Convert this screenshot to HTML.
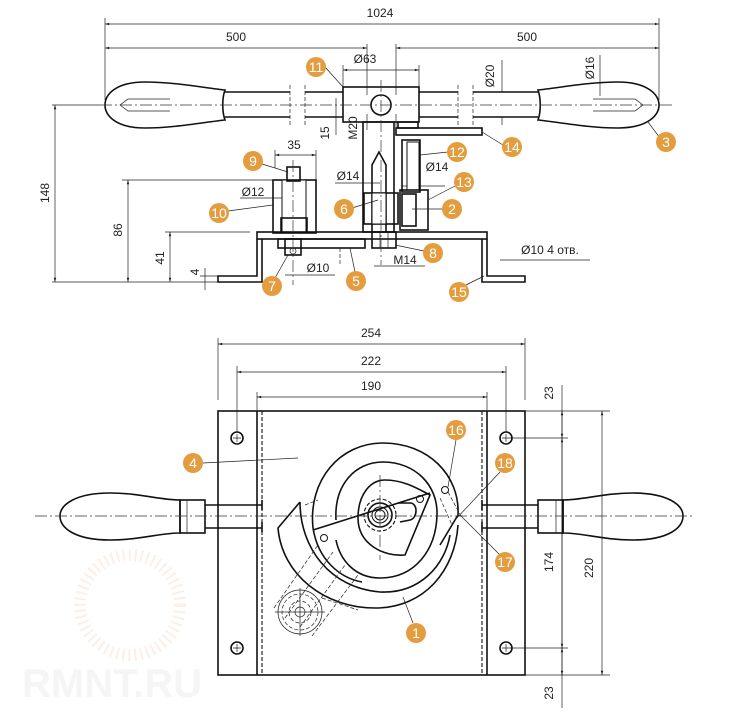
<!DOCTYPE html>
<html><head><meta charset="utf-8"><style>
html,body{margin:0;padding:0;background:#fff}
svg{display:block}
text{font-family:"Liberation Sans",sans-serif;font-size:12px;fill:#222}
.l{stroke:#111;fill:none;stroke-width:1.6}
.t{stroke:#222;fill:none;stroke-width:0.7}
.c{stroke:#333;fill:none;stroke-width:0.7;stroke-dasharray:12 3 2 3}
.d{stroke:#111;fill:none;stroke-width:1.1;stroke-dasharray:4 2}
.b circle{fill:#e39d3f}
.b text{fill:#fff;font-size:14px;text-anchor:middle}
</style></head><body>
<svg width="736" height="715" viewBox="0 0 736 715" xmlns="http://www.w3.org/2000/svg">
<defs>
<marker id="a" viewBox="0 0 10 10" refX="10" refY="5" markerWidth="8" markerHeight="6" orient="auto-start-reverse"><path d="M0,2 L10,5 L0,8z" fill="#222"/></marker>
<pattern id="h" width="4" height="4" patternUnits="userSpaceOnUse" patternTransform="rotate(45)"><line x1="0" y1="0" x2="0" y2="4" stroke="#999" stroke-width="0.7"/></pattern>
<pattern id="x" width="6" height="6" patternUnits="userSpaceOnUse" patternTransform="rotate(45)"><path d="M0,0V6M0,0H6" stroke="#bbb" stroke-width="0.6"/></pattern>
</defs>

<!-- ===== TOP VIEW ===== -->
<g class="t">
<line x1="105" y1="18" x2="105" y2="100"/><line x1="659" y1="18" x2="659" y2="100"/>
<line x1="105" y1="24" x2="659" y2="24" marker-start="url(#a)" marker-end="url(#a)"/>
<line x1="105" y1="48" x2="367" y2="48" marker-start="url(#a)" marker-end="url(#a)"/>
<line x1="396" y1="48" x2="659" y2="48" marker-start="url(#a)" marker-end="url(#a)"/>
<line x1="367" y1="44" x2="367" y2="130"/><line x1="396" y1="44" x2="396" y2="130"/>
<line x1="343" y1="70" x2="419" y2="70" marker-start="url(#a)" marker-end="url(#a)"/>
<line x1="343" y1="65" x2="343" y2="88"/><line x1="419" y1="65" x2="419" y2="88"/>
<line x1="502" y1="60" x2="502" y2="92" /><line x1="502" y1="117" x2="502" y2="125"/>
<line x1="600" y1="55" x2="600" y2="96"/>
<line x1="52" y1="282" x2="218" y2="282"/>
<line x1="52" y1="105" x2="100" y2="105"/>
<line x1="55" y1="105" x2="55" y2="282" marker-start="url(#a)" marker-end="url(#a)"/>
<line x1="122" y1="180" x2="273" y2="180"/>
<line x1="128" y1="180" x2="128" y2="282" marker-start="url(#a)" marker-end="url(#a)"/>
<line x1="165" y1="232" x2="250" y2="232"/>
<line x1="170" y1="232" x2="170" y2="282" marker-start="url(#a)" marker-end="url(#a)"/>
<line x1="205" y1="268" x2="205" y2="290"/><line x1="200" y1="276" x2="218" y2="276"/>
<line x1="275" y1="155" x2="316" y2="155" marker-start="url(#a)" marker-end="url(#a)"/>
<line x1="275" y1="150" x2="275" y2="168"/><line x1="316" y1="150" x2="316" y2="180"/>
<line x1="240" y1="198" x2="300" y2="198"/>
<line x1="335" y1="183" x2="380" y2="183"/>
<line x1="402" y1="186" x2="445" y2="186"/>
<line x1="285" y1="275" x2="335" y2="275"/>
<line x1="374" y1="266" x2="425" y2="266"/>
<line x1="500" y1="260" x2="590" y2="260"/>
<line x1="336" y1="98" x2="336" y2="135"/>
</g>
<text x="380" y="17" text-anchor="middle">1024</text>
<text x="236" y="41" text-anchor="middle">500</text>
<text x="527" y="41" text-anchor="middle">500</text>
<text x="365" y="63" text-anchor="middle">Ø63</text>
<text x="294" y="149" text-anchor="middle">35</text>
<text x="253" y="196" text-anchor="middle">Ø12</text>
<text x="348" y="180" text-anchor="middle">Ø14</text>
<text x="437" y="171" text-anchor="middle">Ø14</text>
<text x="318" y="272" text-anchor="middle">Ø10</text>
<text x="405" y="264" text-anchor="middle">M14</text>
<text x="550" y="254" text-anchor="middle">Ø10 4 отв.</text>
<text transform="translate(49,193) rotate(-90)" text-anchor="middle">148</text>
<text transform="translate(122,230) rotate(-90)" text-anchor="middle">86</text>
<text transform="translate(164,258) rotate(-90)" text-anchor="middle">41</text>
<text transform="translate(199,272) rotate(-90)" text-anchor="middle">4</text>
<text transform="translate(329,133) rotate(-90)" text-anchor="middle">15</text>
<text transform="translate(357,128) rotate(-90)" text-anchor="middle">M20</text>
<text transform="translate(494,76) rotate(-90)" text-anchor="middle">Ø20</text>
<text transform="translate(594,68) rotate(-90)" text-anchor="middle">Ø16</text>

<!-- handles top -->
<path class="l" d="M225,90 C205,88 175,82 145,82 C115,82 105,95 105,105 C105,115 115,128 145,128 C175,128 205,122 225,120 C222,112 222,98 225,90Z" fill="url(#x)"/>
<path class="t" d="M170,99 L128,99 L120,105 L128,111 L170,111"/>
<path class="l" d="M538,90 C558,88 588,82 618,82 C648,82 659,95 659,105 C659,115 648,128 618,128 C588,128 558,122 538,120 C541,112 541,98 538,90Z" fill="url(#x)"/>
<path class="t" d="M593,99 L635,99 L643,105 L635,111 L593,111"/>
<g class="l">
<line x1="225" y1="92" x2="290" y2="92"/><line x1="225" y1="117" x2="290" y2="117"/>
<line x1="305" y1="92" x2="343" y2="92"/><line x1="305" y1="117" x2="343" y2="117"/>
<line x1="419" y1="92" x2="458" y2="92"/><line x1="419" y1="117" x2="458" y2="117"/>
<line x1="473" y1="92" x2="538" y2="92"/><line x1="473" y1="117" x2="538" y2="117"/>
</g>
<g class="t" stroke-dasharray="4 2"><line x1="290" y1="85" x2="290" y2="125"/><line x1="305" y1="85" x2="305" y2="125"/><line x1="458" y1="85" x2="458" y2="125"/><line x1="473" y1="85" x2="473" y2="125"/></g>
<!-- hub & stem -->
<rect class="l" x="343" y="87" width="76" height="35" fill="url(#h)"/>
<rect x="344" y="95" width="74" height="19" fill="#fff"/>
<circle class="l" cx="381" cy="105" r="10"/>
<rect class="l" x="363" y="122" width="31" height="110" fill="url(#h)"/>
<path class="l" d="M372,232 L372,165 L379,152 L386,165 L386,232" fill="#fff"/>
<rect class="l" x="398" y="122" width="20" height="6" fill="url(#h)"/>
<rect class="l" x="396" y="128" width="86" height="7" fill="#fff"/>
<rect class="l" x="402" y="140" width="18" height="52" fill="url(#h)"/>
<rect x="407" y="142" width="12" height="48" fill="#fff" stroke="#111"/>
<rect class="l" x="400" y="190" width="28" height="40" fill="url(#h)"/>
<rect class="l" x="402" y="194" width="14" height="32" fill="url(#x)"/>
<rect class="l" x="364" y="193" width="34" height="31" fill="url(#h)"/>
<rect x="372" y="193" width="14" height="31" fill="#fff" stroke="#111"/>
<rect class="l" x="372" y="232" width="24" height="16" fill="#fff"/>
<line class="t" x1="380" y1="232" x2="380" y2="248"/><line class="t" x1="388" y1="232" x2="388" y2="248"/>
<!-- base -->
<rect class="l" x="257" y="232" width="230" height="7" fill="#fff"/>
<path class="l" d="M257,239 V276 H218 V282 H262 V239 M487,239 V276 H525 V282 H482 V239"/>
<rect class="l" x="278" y="239" width="87" height="9" fill="#fff"/>
<rect class="l" x="273" y="180" width="43" height="53" fill="url(#h)"/>
<rect x="282" y="180" width="24" height="53" fill="#fff" stroke="#111"/>
<rect class="l" x="287" y="167" width="13" height="14" fill="#fff"/>
<rect class="l" x="281" y="218" width="26" height="14" fill="#fff"/>
<rect class="l" x="285" y="239" width="16" height="16" fill="#fff"/>
<circle class="t" cx="293" cy="251" r="3"/>
<line class="c" x1="293" y1="160" x2="293" y2="285"/>
<line class="c" x1="381" y1="80" x2="381" y2="265"/>
<line class="c" x1="100" y1="105" x2="672" y2="105"/>
<line class="t" x1="340" y1="248" x2="340" y2="265" stroke-dasharray="4 2"/>

<!-- ===== BOTTOM VIEW ===== -->
<g class="t">
<line x1="218" y1="338" x2="218" y2="400"/><line x1="525" y1="338" x2="525" y2="400"/>
<line x1="218" y1="344" x2="525" y2="344" marker-start="url(#a)" marker-end="url(#a)"/>
<line x1="237" y1="366" x2="237" y2="432"/><line x1="506" y1="366" x2="506" y2="432"/>
<line x1="237" y1="372" x2="506" y2="372" marker-start="url(#a)" marker-end="url(#a)"/>
<line x1="257" y1="392" x2="257" y2="410"/><line x1="487" y1="392" x2="487" y2="410"/>
<line x1="257" y1="397" x2="487" y2="397" marker-start="url(#a)" marker-end="url(#a)"/>
<line x1="525" y1="411" x2="610" y2="411"/><line x1="525" y1="675" x2="610" y2="675"/>
<line x1="510" y1="438" x2="568" y2="438"/><line x1="510" y1="648" x2="568" y2="648"/>
<line x1="562" y1="385" x2="562" y2="708"/>
<line x1="562" y1="411" x2="562" y2="438" marker-start="url(#a)" marker-end="url(#a)"/>
<line x1="562" y1="438" x2="562" y2="648" marker-start="url(#a)" marker-end="url(#a)"/>
<line x1="562" y1="648" x2="562" y2="675" marker-start="url(#a)" marker-end="url(#a)"/>
<line x1="602" y1="411" x2="602" y2="675" marker-start="url(#a)" marker-end="url(#a)"/>
</g>
<text x="371" y="337" text-anchor="middle">254</text>
<text x="371" y="365" text-anchor="middle">222</text>
<text x="371" y="390" text-anchor="middle">190</text>
<text transform="translate(553,393) rotate(-90)" text-anchor="middle">23</text>
<text transform="translate(553,693) rotate(-90)" text-anchor="middle">23</text>
<text transform="translate(553,562) rotate(-90)" text-anchor="middle">174</text>
<text transform="translate(593,568) rotate(-90)" text-anchor="middle">220</text>

<!-- watermark -->
<text x="22" y="697" style="font-size:40px;font-weight:bold;fill:#f5f5f5">RMNT.RU</text>
<circle cx="130" cy="605" r="50" fill="none" stroke="#fbefe8" stroke-width="12" stroke-dasharray="2 4"/>

<rect class="l" x="218" y="411" width="307" height="264" fill="none"/>
<line class="l" x1="257" y1="411" x2="257" y2="675"/><line class="l" x1="487" y1="411" x2="487" y2="675"/>
<line class="d" x1="262" y1="411" x2="262" y2="675"/><line class="d" x1="482" y1="411" x2="482" y2="675"/>
<g class="l"><circle cx="237" cy="438" r="6"/><circle cx="506" cy="438" r="6"/><circle cx="237" cy="648" r="6"/><circle cx="506" cy="648" r="6"/></g>
<g class="t"><path d="M233,438h8M237,434v8M502,438h8M506,434v8M233,648h8M237,644v8M502,648h8M506,644v8"/></g>

<!-- handles bottom -->
<path class="l" d="M180,500 C160,500 140,493 110,493 C75,493 60,505 60,516 C60,528 75,540 110,540 C140,540 160,533 180,533Z" fill="#fff"/>
<rect class="l" x="180" y="500" width="25" height="33" fill="#fff"/><line class="t" x1="187" y1="500" x2="187" y2="533"/>
<path class="l" d="M205,505 H262 M205,528 H262 M262,500 V510 M262,522 V532"/>
<path class="l" d="M563,500 C583,500 603,493 633,493 C668,493 683,505 683,516 C683,528 668,540 633,540 C603,540 583,533 563,533Z" fill="#fff"/>
<rect class="l" x="538" y="500" width="25" height="33" fill="#fff"/><line class="t" x1="556" y1="500" x2="556" y2="533"/>
<path class="l" d="M482,505 H538 M482,528 H538 M482,500 V510 M482,522 V532"/>

<!-- spiral -->
<g class="l">
<!-- outer crescent -->
<path d="M300,502 L278,528 C282,575 325,608 375,608 C425,608 455,570 458,525"/>
<path d="M300,502 C300,548 330,588 380,592 C420,594 445,565 450,535"/>
<!-- big ring top -->
<path d="M313,528 C308,480 340,443 383,443 C428,443 460,475 458,515 L440,545"/>
<path d="M313,528 C318,560 340,578 362,582"/>
<!-- second ring -->
<path d="M336,520 C334,485 355,462 383,462 C415,462 438,485 437,515 C436,550 415,578 380,578 C355,578 340,560 336,540"/>
<!-- inner -->
<path d="M358,518 C358,495 370,480 385,480 C405,480 420,490 430,495 L405,555 C385,557 358,545 358,518"/>
<path d="M398,503 H410 C418,503 418,518 410,520 L400,522"/>
<path d="M313,530 L430,493"/>
<circle cx="380" cy="515" r="12"/><circle cx="380" cy="515" r="8" stroke-width="1"/><circle cx="380" cy="515" r="5" stroke-width="1"/>
<circle cx="445" cy="490" r="3.5" stroke-width="1"/><circle cx="420" cy="499" r="3.5" stroke-width="1"/><circle cx="324" cy="538" r="3.5" stroke-width="1"/>
</g>
<circle class="d" cx="380" cy="515" r="16" stroke-width="0.7"/>
<line class="c" x1="380" y1="475" x2="380" y2="560"/>
<g class="t" stroke-dasharray="4 2">
<path d="M274,608 L318,545 M285,618 L333,552 M300,627 L345,565 M312,636 L358,575 M322,598 L358,610"/>
<path d="M305,505 L318,500 M440,498 L452,525 M448,492 L462,518"/>
<circle cx="300" cy="612" r="18"/><circle cx="300" cy="612" r="11"/>
</g>
<circle class="t" cx="300" cy="612" r="22"/>
<path class="t" d="M275,612 H325 M300,588 V636"/>
<circle class="t" cx="300" cy="612" r="5"/>
<line class="c" x1="35" y1="516" x2="695" y2="516"/>

<!-- leader lines -->
<g class="t">
<line x1="325" y1="67" x2="343" y2="87"/>
<line x1="660" y1="138" x2="648" y2="122"/>
<line x1="503" y1="145" x2="482" y2="132"/>
<line x1="448" y1="152" x2="420" y2="155"/>
<line x1="455" y1="186" x2="428" y2="200"/>
<line x1="443" y1="209" x2="412" y2="209"/>
<line x1="262" y1="164" x2="288" y2="172"/>
<line x1="228" y1="211" x2="273" y2="205"/>
<line x1="352" y1="208" x2="378" y2="200"/>
<line x1="424" y1="251" x2="395" y2="245"/>
<line x1="355" y1="272" x2="350" y2="248"/>
<line x1="275" y1="278" x2="288" y2="255"/>
<line x1="466" y1="285" x2="484" y2="276"/>
<line x1="203" y1="463" x2="298" y2="458"/>
<line x1="456" y1="440" x2="448" y2="487"/>
<line x1="500" y1="472" x2="455" y2="520"/>
<line x1="500" y1="555" x2="460" y2="515"/>
<line x1="413" y1="623" x2="403" y2="597"/>
</g>
<!-- badges -->
<g class="b">
<circle cx="316" cy="67" r="10"/><text x="316" y="72">11</text>
<circle cx="666" cy="142" r="10"/><text x="666" y="147">3</text>
<circle cx="512" cy="147" r="10"/><text x="512" y="152">14</text>
<circle cx="457" cy="152" r="10"/><text x="457" y="157">12</text>
<circle cx="464" cy="182" r="10"/><text x="464" y="187">13</text>
<circle cx="452" cy="209" r="10"/><text x="452" y="214">2</text>
<circle cx="253" cy="161" r="10"/><text x="253" y="166">9</text>
<circle cx="219" cy="213" r="10"/><text x="219" y="218">10</text>
<circle cx="344" cy="209" r="10"/><text x="344" y="214">6</text>
<circle cx="433" cy="253" r="10"/><text x="433" y="258">8</text>
<circle cx="356" cy="281" r="10"/><text x="356" y="286">5</text>
<circle cx="272" cy="286" r="10"/><text x="272" y="291">7</text>
<circle cx="459" cy="292" r="10"/><text x="459" y="297">15</text>
<circle cx="193" cy="463" r="10"/><text x="193" y="468">4</text>
<circle cx="456" cy="430" r="10"/><text x="456" y="435">16</text>
<circle cx="505" cy="463" r="10"/><text x="505" y="468">18</text>
<circle cx="505" cy="562" r="10"/><text x="505" y="567">17</text>
<circle cx="416" cy="633" r="10"/><text x="416" y="638">1</text>
</g>
</svg>
</body></html>
